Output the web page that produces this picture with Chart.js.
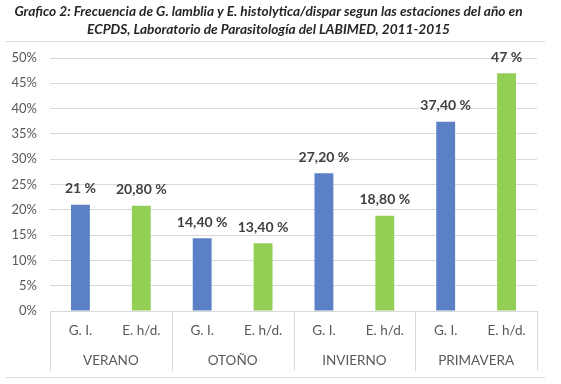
<!DOCTYPE html>
<html>
<head>
<meta charset="utf-8">
<script src="https://cdn.jsdelivr.net/npm/chart.js@4/dist/chart.umd.min.js"></script>
<style>
html,body{margin:0;padding:0;background:#fff;}
#wrap{width:561px;height:384px;position:relative;}
</style>
</head>
<body>
<div id="wrap"><canvas id="c" width="561" height="384"></canvas></div>
<script>
const titleLines = [
  'Grafico 2: Frecuencia de G. lamblia y E. histolytica/dispar segun las estaciones del año en',
  'ECPDS, Laboratorio de Parasitología del LABIMED, 2011-2015'
];
const seasons = ['VERANO', 'OTOÑO', 'INVIERNO', 'PRIMAVERA'];
const seriesNames = ['G. I.', 'E. h/d.'];
const giValues = [21, 14.4, 27.2, 37.4];
const ehValues = [20.8, 13.4, 18.8, 47];
const giLabels = ['21 %', '14,40 %', '27,20 %', '37,40 %'];
const ehLabels = ['20,80 %', '13,40 %', '18,80 %', '47 %'];
const yTickValues = [0, 5, 10, 15, 20, 25, 30, 35, 40, 45, 50];

const BLUE = '#5b80c6';
const GREEN = '#93cf55';
const GRID = '#d9d9d9';
const TXT = '#595959';
const FONT = 'Lato, "Open Sans", sans-serif';

const catLabels = [], values = [], colors = [], valueLabels = [];
seasons.forEach((s, i) => {
  catLabels.push(seriesNames[0]); values.push(giValues[i]); colors.push(BLUE); valueLabels.push(giLabels[i]);
  catLabels.push(seriesNames[1]); values.push(ehValues[i]); colors.push(GREEN); valueLabels.push(ehLabels[i]);
});

const decor = {
  id: 'decor',
  beforeDraw(chart) {
    const ctx = chart.ctx;
    ctx.save();
    ctx.fillStyle = '#fff';
    ctx.fillRect(0, 0, chart.width, chart.height);
    ctx.restore();
  },
  afterDraw(chart) {
    const ctx = chart.ctx;
    const ca = chart.chartArea;
    const x2 = chart.scales.x2;
    ctx.save();
    ctx.strokeStyle = GRID;
    ctx.lineWidth = 1;
    ctx.beginPath();
    ctx.moveTo(6, 41.5); ctx.lineTo(545, 41.5);
    ctx.moveTo(6, 377.5); ctx.lineTo(545, 377.5);
    ctx.stroke();
    const n = seasons.length;
    const w = (ca.right - ca.left) / n;
    ctx.beginPath();
    for (let i = 0; i <= n; i++) {
      const x = Math.round(ca.left + i * w) + 0.5;
      ctx.moveTo(x, ca.bottom);
      ctx.lineTo(x, x2.bottom);
    }
    ctx.stroke();
    const meta = chart.getDatasetMeta(0);
    ctx.fillStyle = '#404040';
    ctx.font = 'bold 14px ' + FONT;
    ctx.textAlign = 'center';
    ctx.textBaseline = 'middle';
    meta.data.forEach((bar, i) => {
      ctx.fillText(valueLabels[i], bar.x, bar.y - 16);
    });
    ctx.restore();
  }
};

new Chart(document.getElementById('c'), {
  type: 'bar',
  data: {
    labels: catLabels,
    datasets: [{
      data: values,
      backgroundColor: colors,
      borderWidth: 0,
      barPercentage: 0.31,
      categoryPercentage: 1
    }]
  },
  options: {
    responsive: false,
    animation: false,
    layout: { padding: { left: 0, right: 24, top: 0, bottom: 13 } },
    plugins: {
      legend: { display: false },
      tooltip: { enabled: false },
      title: {
        display: true,
        text: titleLines,
        color: '#262626',
        font: { family: FONT, size: 13.7, weight: 'bold', style: 'italic', lineHeight: 1.3139 },
        padding: { top: 3, bottom: 19 }
      }
    },
    scales: {
      y: {
        min: 0, max: 50,
        afterBuildTicks(scale) { scale.ticks = yTickValues.map(v => ({ value: v })); },
        afterFit(scale) { scale.width = 50; },
        ticks: { color: TXT, font: { family: FONT, size: 13 }, padding: 13, callback: v => v + '%' },
        grid: { color: GRID, drawTicks: false },
        border: { display: false }
      },
      x: {
        afterFit(scale) { scale.height = 34; },
        ticks: { color: TXT, font: { family: FONT, size: 13.5 }, padding: 12, maxRotation: 0, autoSkip: false },
        grid: { display: false, drawTicks: false },
        border: { display: false }
      },
      x2: {
        type: 'category',
        position: 'bottom',
        labels: seasons,
        offset: true,
        afterFit(scale) { scale.height = 26; },
        ticks: { color: TXT, font: { family: FONT, size: 13.5 }, padding: 8, maxRotation: 0, autoSkip: false },
        grid: { display: false, drawTicks: false },
        border: { display: false }
      }
    }
  },
  plugins: [decor]
});
</script>
</body>
</html>
